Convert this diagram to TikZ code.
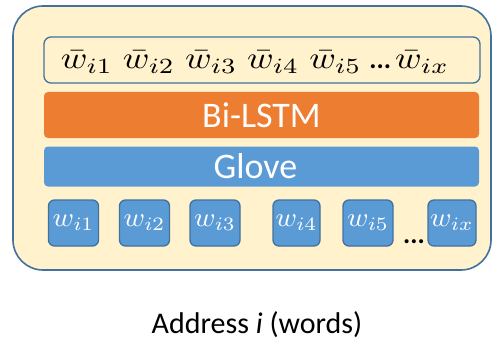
\documentclass[tikz,border=0pt]{standalone}
\usepackage{fontspec}
\usepackage{graphicx}
\setmainfont{Carlito}
\definecolor{outerfill}{HTML}{FFF2CC}
\definecolor{edgeblue}{HTML}{41719C}
\definecolor{boxblue}{HTML}{5B9BD5}
\definecolor{barorange}{HTML}{ED7D31}
\newcommand{\bigw}[1]{\scalebox{2.9}[2.7]{$w_{#1}$}}
\newcommand{\topw}[1]{\scalebox{3.6}[3.1]{$\bar{w}_{#1}$}}
\tikzset{
  wordbox/.style={draw=edgeblue, line width=1.3pt, fill=boxblue, rounded corners=6pt, minimum width=50pt, minimum height=46pt, inner sep=0pt, text=white},
  bar/.style={rounded corners=4pt, minimum width=435pt, inner sep=0pt, text=white, font=\fontsize{36}{40}\selectfont},
}
\begin{document}
\begin{tikzpicture}[x=1pt,y=-1pt]
\useasboundingbox (0,0) rectangle (492,342);
\draw[edgeblue, line width=1.6pt, fill=outerfill, rounded corners=30pt] (13,6) rectangle (491,270);
\node[draw=edgeblue, line width=1.3pt, rounded corners=7pt, minimum width=436pt, minimum height=46pt, inner sep=0pt] (top) at (262,60) {};
\node[inner sep=0pt] (toptext) at (255,62) {\topw{i1}\hspace{10pt}\topw{i2}\hspace{10pt}\topw{i3}\hspace{10pt}\topw{i4}\hspace{10pt}\topw{i5}\hspace{8pt}{\fontsize{27}{30}\selectfont\bfseries...}\hspace{4pt}\topw{ix}};
\node[bar, fill=barorange, minimum height=46pt] (lstm) at (261.5,115) {Bi-LSTM};
\node[bar, fill=boxblue, minimum height=40pt] (glove) at (261.5,166.5) {\hspace*{-12pt}Glove};
\node[wordbox] (w1) at (73.5,223) {\bigw{i1}};
\node[wordbox] (w2) at (144.5,223) {\bigw{i2}};
\node[wordbox] (w3) at (215,223) {\bigw{i3}};
\node[wordbox, minimum width=47pt] (w4) at (296.5,223) {\bigw{i4}};
\node[wordbox] (w5) at (368,223) {\bigw{i5}};
\node[wordbox, minimum width=48pt] (wx) at (452,223) {\bigw{ix}};
\node[font=\fontsize{27}{30}\selectfont\bfseries, inner sep=0pt, anchor=base] (dots) at (414,243) {...};
\node[font=\fontsize{30}{34}\selectfont, anchor=base] (label) at (257,333) {Address \textit{i} (words)};
\end{tikzpicture}
\end{document}
